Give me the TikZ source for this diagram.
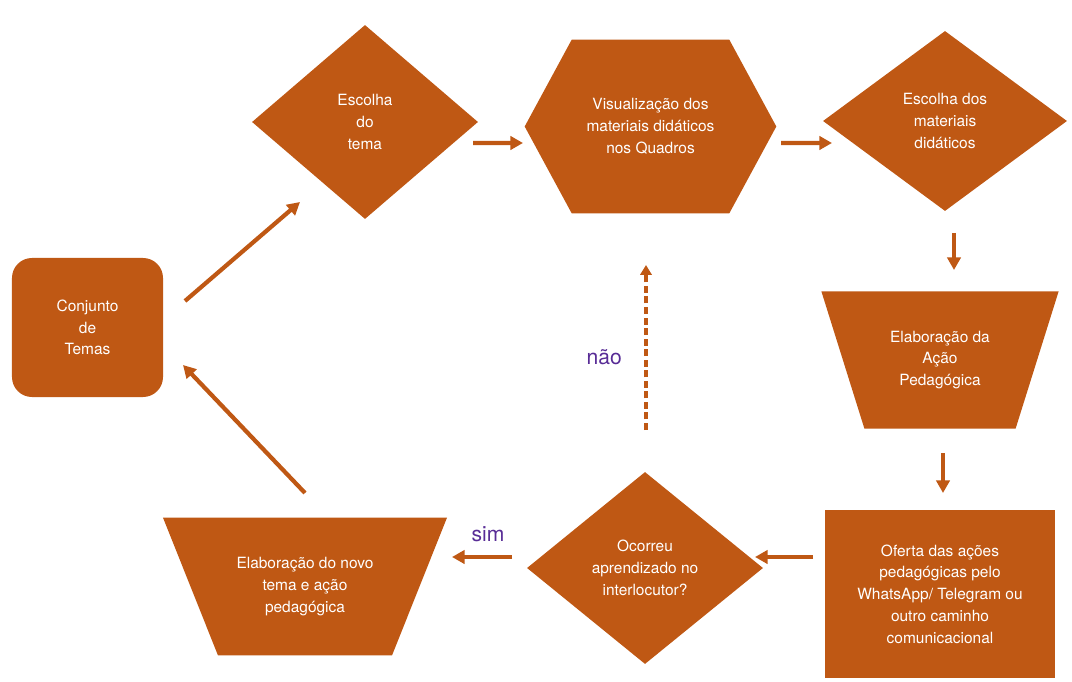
\documentclass[tikz,border=0pt]{standalone}
\usepackage{fontspec}
\setmainfont{TeX Gyre Heros}
\usepackage[svgnames]{xcolor}
\usepackage{tikz}
\usetikzlibrary{calc}
\usetikzlibrary{arrows.meta}
\usetikzlibrary{shapes.geometric}
\usetikzlibrary{backgrounds}

\definecolor{rust}{RGB}{191,88,20}
\definecolor{violeta}{RGB}{88,44,150}

\begin{document}
\begin{tikzpicture}[x=0.025cm, y=-0.025cm,
        box/.style={fill=rust, text=white, align=center, inner sep=0pt, font=\fontsize{11}{15.5}\selectfont},
        seta/.style={draw=rust, line width=3pt, -{Triangle[length=9pt, width=9.5pt]}},
        resp/.style={text=violeta, font=\fontsize{15}{18}\selectfont}]
        \useasboundingbox (0,0) rectangle (1072,682);

        \node[box, rectangle, rounded corners=0.5cm, minimum width=3.775cm, minimum height=3.475cm] (conj) at (87.5,327.5) {Conjunto\\de\\Temas};
        \node[box, diamond, minimum width=5.65cm, minimum height=4.85cm] (tema) at (365,122) {Escolha\\do\\tema};
        \node[box, fill=none, minimum width=6.275cm, minimum height=4.325cm] (vis) at (650.5,126.5) {Visualização dos\\materiais didáticos\\nos Quadros};
        \node[box, diamond, minimum width=6.1cm, minimum height=4.5cm] (escmat) at (945,121) {Escolha dos\\materiais\\didáticos};
        \node[box, fill=none, minimum width=5.915cm, minimum height=3.415cm] (elab) at (940,360) {Elaboração da\\Ação\\Pedagógica};
        \node[box, rectangle, minimum width=5.75cm, minimum height=4.2cm] (ofer) at (940,594) {Oferta das ações\\pedagógicas pelo\\WhatsApp/ Telegram ou\\outro caminho\\comunicacional};
        \node[box, diamond, minimum width=5.9cm, minimum height=4.8cm] (ocor) at (645,568) {Ocorreu\\aprendizado no\\interlocutor?};
        \node[box, fill=none, minimum width=7.085cm, minimum height=3.43cm] (novo) at (305,586.5) {Elaboração do novo\\tema e ação\\pedagógica};

        \begin{pgfonlayer}{background}
            \fill[rust] (vis.west) -- ($(vis.north west)+(47,0)$) -- ($(vis.north east)+(-47,0)$) -- (vis.east) -- ($(vis.south east)+(-47,0)$) -- ($(vis.south west)+(47,0)$) -- cycle;
            \fill[rust] (elab.north west) -- (elab.north east) -- ($(elab.south east)+(-43,0)$) -- ($(elab.south west)+(43,0)$) -- cycle;
            \fill[rust] (novo.north west) -- (novo.north east) -- ($(novo.south east)+(-55,0)$) -- ($(novo.south west)+(55,0)$) -- cycle;
        \end{pgfonlayer}

        \draw[seta] ($(conj)+(97.5,-26.5)$) -- ($(tema)+(-65,80)$);
        \draw[seta] ($(tema)+(108,21)$) -- ($(vis)+(-127.5,16.5)$);
        \draw[seta] ($(vis)+(130.5,16.5)$) -- ($(escmat)+(-113,22)$);
        \draw[seta] ($(escmat)+(9,112)$) -- ($(elab)+(14,-90)$);
        \draw[seta] ($(elab)+(3,93)$) -- ($(ofer)+(3,-101)$);
        \draw[seta] ($(ofer)+(-127,-37)$) -- ($(ocor)+(110,-11)$);
        \draw[seta] ($(ocor)+(-133,-11)$) -- ($(novo)+(147,-29.5)$) node[resp, pos=0.4, above=6pt] {sim};
        \draw[seta] ($(novo)+(0,-93.5)$) -- ($(conj)+(95.5,37.5)$);
        \draw[seta, line width=2.2pt, dash pattern=on 5pt off 2.5pt, -{Triangle[length=7pt, width=8pt]}] ($(ocor)+(1,-138)$) -- ($(vis)+(-4.5,138.5)$) node[resp, pos=0.44, left=0.45cm, anchor=east] {não};
    \end{tikzpicture}
\end{document}
